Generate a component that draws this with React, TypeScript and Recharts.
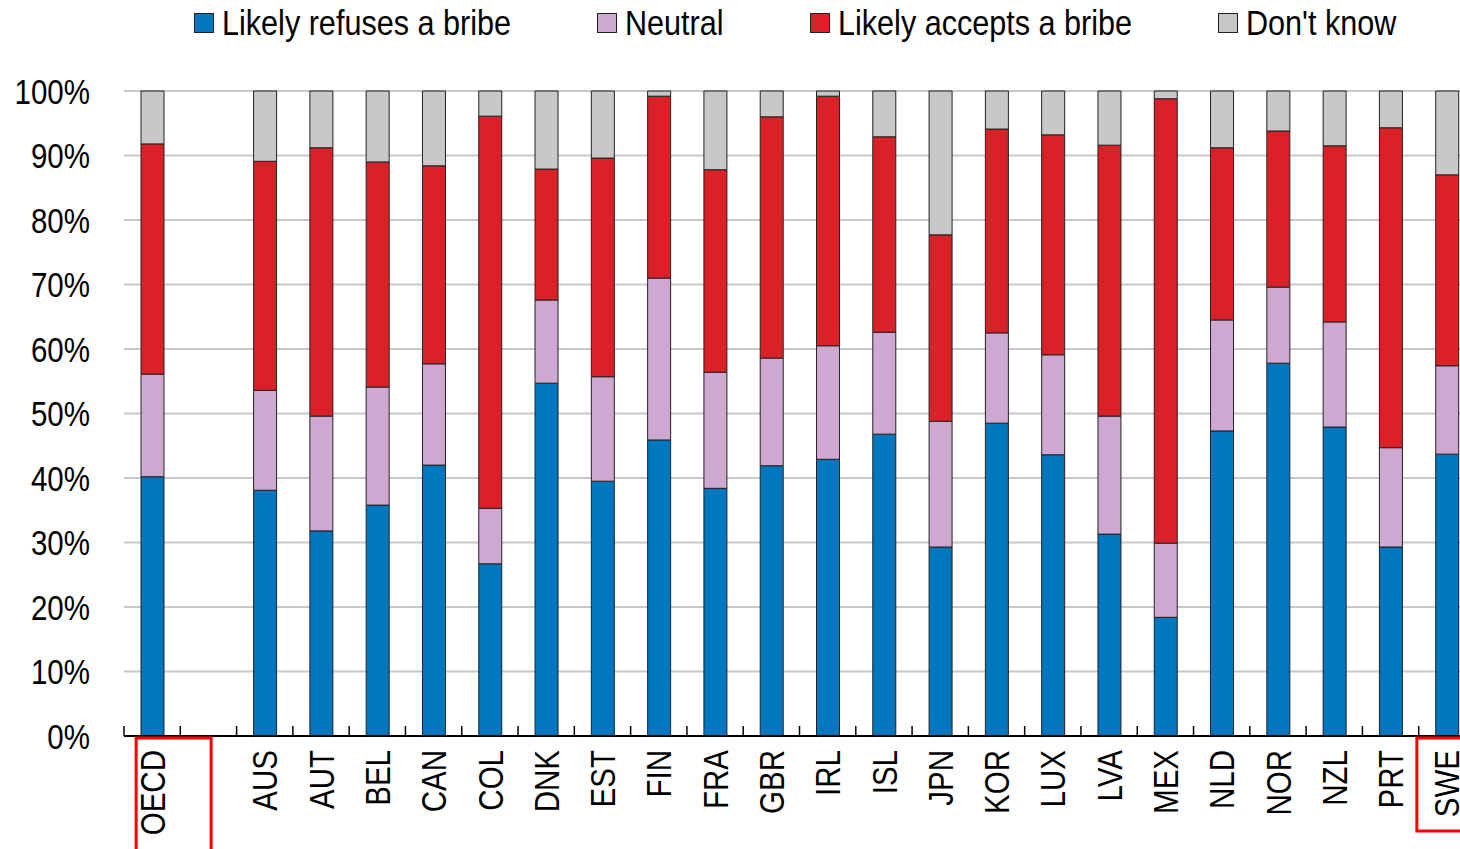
import { Bar, BarChart, CartesianGrid, XAxis, YAxis } from 'recharts'

const COUNTRIES = [
  'OECD', '', 'AUS', 'AUT', 'BEL', 'CAN', 'COL', 'DNK', 'EST', 'FIN', 'FRA', 'GBR',
  'IRL', 'ISL', 'JPN', 'KOR', 'LUX', 'LVA', 'MEX', 'NLD', 'NOR', 'NZL', 'PRT', 'SWE',
]

// share of respondents, in %, per country (blank slot separates the OECD average)
const REFUSES = [
  40.2, null, 38.1, 31.8, 35.8, 42.0, 26.7, 54.7, 39.5, 45.9, 38.4, 41.9,
  42.9, 46.8, 29.3, 48.5, 43.6, 31.3, 18.4, 47.3, 57.8, 47.9, 29.3, 43.7,
]
const NEUTRAL = [
  15.9, null, 15.5, 17.8, 18.3, 15.7, 8.6, 12.9, 16.2, 25.1, 18.0, 16.7,
  17.6, 15.8, 19.5, 14.0, 15.5, 18.3, 11.5, 17.2, 11.8, 16.3, 15.4, 13.7,
]
const ACCEPTS = [
  35.7, null, 35.5, 41.6, 34.9, 30.7, 60.8, 20.3, 33.9, 28.2, 31.4, 37.4,
  38.7, 30.3, 28.9, 31.6, 34.1, 42.0, 68.9, 26.7, 24.2, 27.3, 49.6, 29.6,
]
const DONT_KNOW = [
  8.2, null, 10.9, 8.8, 11.0, 11.6, 3.9, 12.1, 10.4, 0.8, 12.2, 4.0,
  0.8, 7.1, 22.3, 5.9, 6.8, 8.4, 1.2, 8.8, 6.2, 8.5, 5.7, 13.0,
]

const Y_TICKS = [0, 10, 20, 30, 40, 50, 60, 70, 80, 90, 100]

const SERIES = [
  { key: 'refuses', name: 'Likely refuses a bribe', color: '#0077be' },
  { key: 'neutral', name: 'Neutral', color: '#cfa8d2' },
  { key: 'accepts', name: 'Likely accepts a bribe', color: '#da2128' },
  { key: 'dontKnow', name: "Don't know", color: '#c8c8c8' },
]

const LEGEND_X = [194, 597, 810, 1218]

// no narrow font installed: squeeze Liberation Sans to mimic Arial Narrow
const FONT = "'Liberation Sans', Arial, sans-serif"
const NARROW = 0.82
const LEGEND_NARROW = 0.85

const CHART_W = 1480
const CHART_H = 849
const Y_AXIS_W = 124
const MARGIN_RIGHT = 5
const BAND = (CHART_W - Y_AXIS_W - MARGIN_RIGHT) / COUNTRIES.length

const data = COUNTRIES.map((country, i) => ({
  country,
  refuses: REFUSES[i],
  neutral: NEUTRAL[i],
  accepts: ACCEPTS[i],
  dontKnow: DONT_KNOW[i],
}))

function CountryTick(props: any) {
  const { x, y, payload } = props
  const name: string = payload.value
  const left = x - BAND / 2
  return (
    <g>
      <line x1={left} x2={left} y1={y} y2={y - 10} stroke="#000" strokeWidth={1.5} />
      {name === 'OECD' && (
        <rect x={x - 16} y={y + 2} width={75} height={140} fill="none" stroke="#ff0000" strokeWidth={3} />
      )}
      {name === 'SWE' && (
        <rect x={x - 30} y={y + 2} width={90} height={93} fill="none" stroke="#ff0000" strokeWidth={3} />
      )}
      <text
        transform={`translate(${x},${y + 14}) rotate(-90) scale(${NARROW},1)`}
        textAnchor="end"
        dy="0.35em"
        fontSize={36}
        fontFamily={FONT}
        fill="#000"
      >
        {name}
      </text>
    </g>
  )
}

function PercentTick(props: any) {
  const { x, y, payload } = props
  return (
    <text
      transform={`translate(${x},${y}) scale(${NARROW},1)`}
      textAnchor="end"
      dy="0.355em"
      fontSize={36}
      fontFamily={FONT}
      fill="#000"
    >
      {`${payload.value}%`}
    </text>
  )
}

function LegendOverlay() {
  return (
    <svg width={1460} height={60} style={{ position: 'absolute', left: 0, top: 0 }}>
      {SERIES.map((s, i) => (
        <g key={s.key}>
          <rect x={LEGEND_X[i] + 0.5} y={13.5} width={19} height={19} fill={s.color} stroke="#222" strokeWidth={1} />
          <text
            transform={`translate(${LEGEND_X[i] + 28},35) scale(${LEGEND_NARROW},1)`}
            fontSize={36}
            fontFamily={FONT}
            fill="#000"
          >
            {s.name}
          </text>
        </g>
      ))}
    </svg>
  )
}

export default function App() {
  return (
    <div
      style={{
        position: 'fixed',
        left: 0,
        top: 0,
        width: 1460,
        height: 849,
        overflow: 'hidden',
        background: '#fff',
      }}
    >
      <BarChart
        width={CHART_W}
        height={CHART_H}
        data={data}
        margin={{ top: 91, right: MARGIN_RIGHT, bottom: 0, left: 0 }}
        barSize={23}
      >
        <CartesianGrid vertical={false} stroke="#c8c8c8" strokeWidth={2} />
        <XAxis
          dataKey="country"
          interval={0}
          height={113}
          tickLine={false}
          tickSize={0}
          tickMargin={0}
          axisLine={{ stroke: '#000', strokeWidth: 2 }}
          tick={<CountryTick />}
        />
        <YAxis
          width={Y_AXIS_W}
          domain={[0, 100]}
          ticks={Y_TICKS}
          axisLine={false}
          tickLine={false}
          tickSize={6}
          tickMargin={28}
          tick={<PercentTick />}
        />
        {SERIES.map((s) => (
          <Bar
            key={s.key}
            dataKey={s.key}
            name={s.name}
            stackId="a"
            fill={s.color}
            stroke="#222"
            strokeWidth={1}
            isAnimationActive={false}
          />
        ))}
      </BarChart>
      <LegendOverlay />
    </div>
  )
}
